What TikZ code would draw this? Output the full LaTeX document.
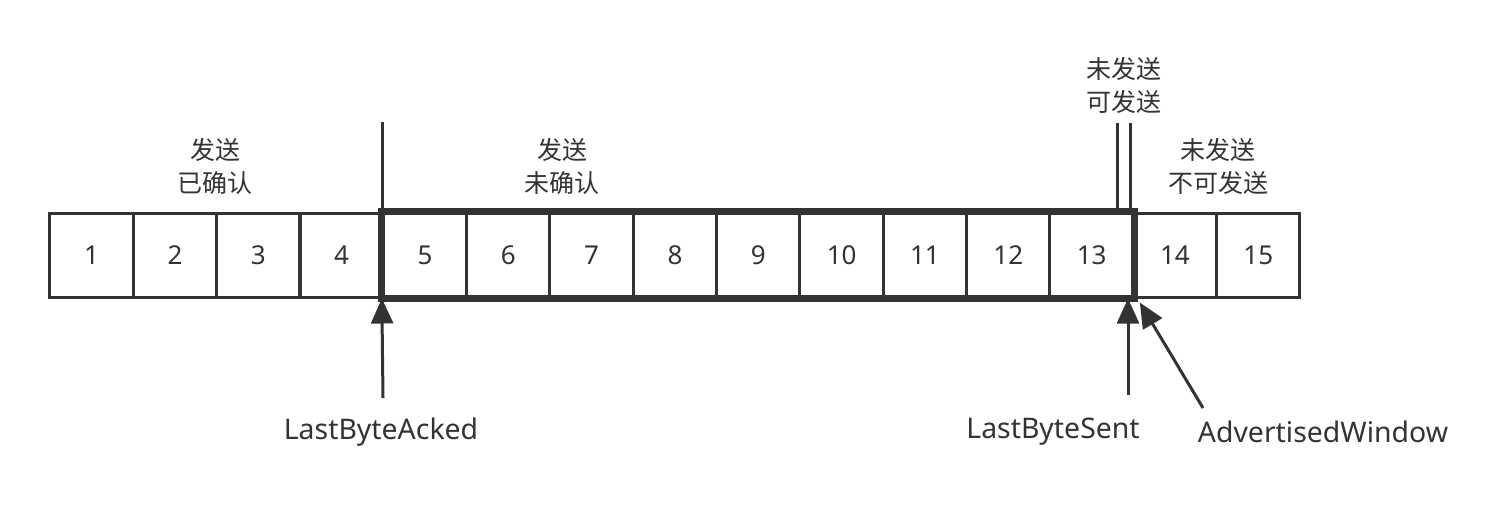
\documentclass[tikz,border=0pt]{standalone}
\usepackage{fontspec}
\setmainfont{Noto Sans}
\newfontfamily\cjk{Noto Sans CJK SC}
\usetikzlibrary{arrows.meta}
\definecolor{ink}{HTML}{333333}
\begin{document}
\begin{tikzpicture}[x=0.5pt,y=-0.5pt,
  cell/.style={draw=ink,line width=1.5pt,minimum width=41.67pt,minimum height=42pt,inner sep=0pt,font=\fontsize{13}{14}\selectfont,text=ink},
  lab/.style={font=\cjk\fontsize{12.5}{16.5}\selectfont,align=center,text=ink,inner sep=0pt},
  ptr/.style={font=\fontsize{14.2}{16}\selectfont,text=ink,inner sep=0pt},
  arr/.style={draw=ink,line width=1.5pt,-{Triangle[length=12.5pt,width=11pt]}},
  divline/.style={draw=ink,line width=1.5pt}]
\useasboundingbox (0,0) rectangle (1486,510);
\foreach \i in {1,...,15}{
  \node[cell] (c\i) at ({50+83.33*(\i-0.5)},255) {\i};
}
\draw[draw=ink,line width=3.5pt] (c5.north west) rectangle (c13.south east);
% labels
\node[lab] (t1) at (215,166) {发送\\已确认};
\node[lab] (t2) at (562,166) {发送\\未确认};
\node[lab] (t3) at (1124,85) {未发送\\可发送};
\node[lab] (t4) at (1218,166) {未发送\\不可发送};
% divider lines
\coordinate (d1) at (382,122);
\draw[divline] (d1) -- (d1 |- c5.north);
\coordinate (d2) at (1117,123);
\coordinate (d3) at (1130,123);
\draw[divline] (d2) -- (d2 |- c13.north);
\draw[divline] (d3) -- (d3 |- c13.north);
% pointer labels
\node[ptr] (lba) at (381,432) {LastByteAcked};
\node[ptr] (lbs) at (1053,432) {LastByteSent};
\node[ptr] (adw) at (1323,432) {AdvertisedWindow};
\coordinate (a1) at (383,398);
\coordinate (a2) at (1128,395);
\coordinate (a3) at (1203,408);
\draw[arr] (a1) -- (c5.south west);
\draw[arr] (a2) -- (a2 |- c13.south east);
\draw[arr] (a3) -- ([xshift=2.5pt,yshift=-2pt]c13.south east);
\end{tikzpicture}
\end{document}
